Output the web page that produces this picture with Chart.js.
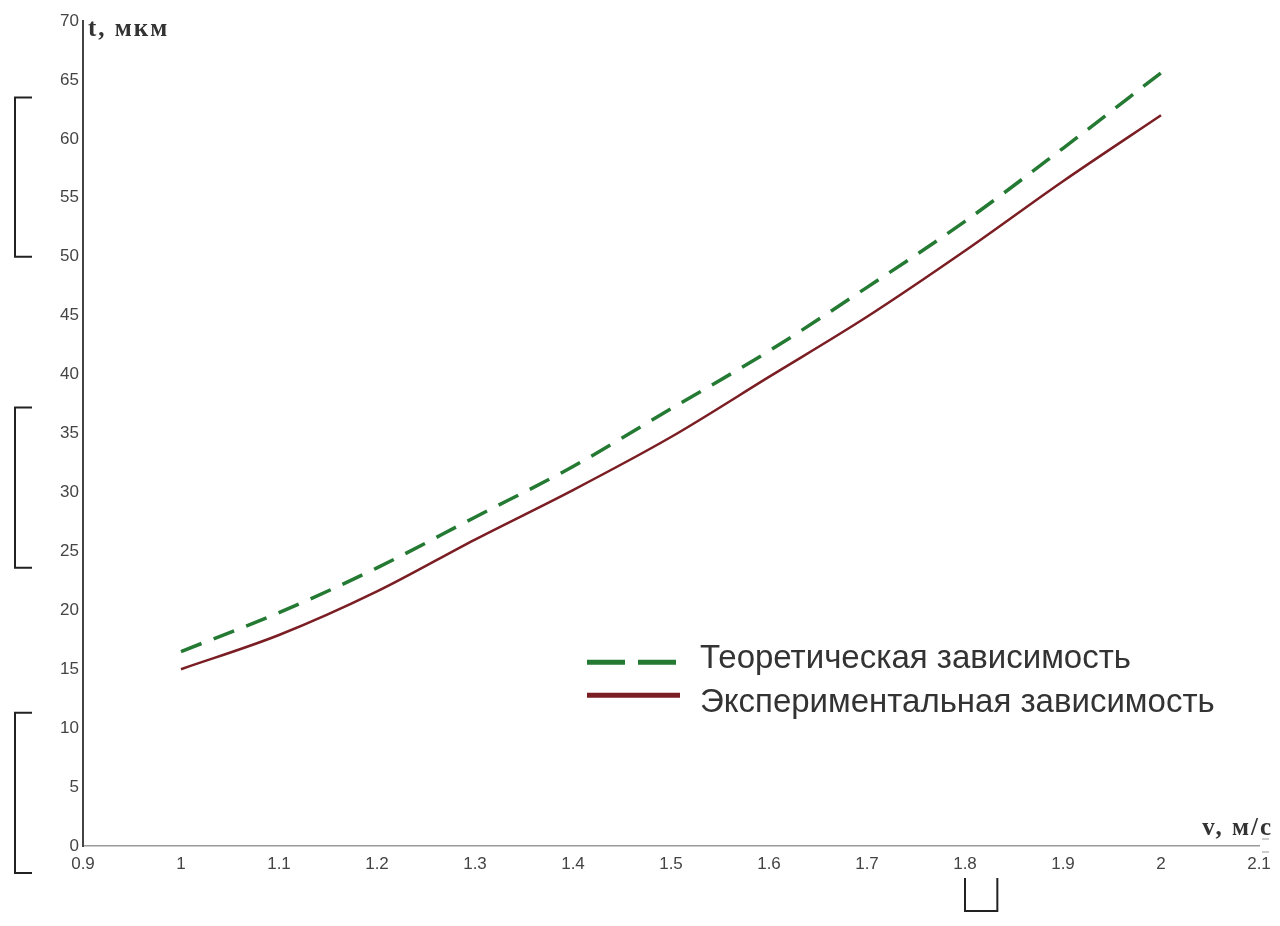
<!DOCTYPE html>
<html lang="ru">
  <head>
    <meta charset="UTF-8" />
    <title>t(v)</title>
    <script src="https://cdn.jsdelivr.net/npm/chart.js"></script>
    <style>
      html, body { margin: 0; padding: 0; background: #fff; }
      #wrap { width: 1280px; height: 926px; }
    </style>
  </head>
  <body>
    <div id="wrap"><canvas id="chart" width="1280" height="926"></canvas></div>
    <script>
      // speed v, m/s
      const speeds = [1, 1.1, 1.2, 1.3, 1.4, 1.5, 1.6, 1.7, 1.8, 1.9, 2];
      // t, mkm
      const theoretical = [16.5, 19.8, 23.6, 27.9, 32.2, 37.1, 42.0, 47.4, 53.0, 59.2, 65.6];
      const experimental = [15.0, 17.9, 21.6, 26.0, 30.2, 34.7, 39.8, 44.9, 50.5, 56.4, 62.0];
      const legendLabels = ["Теоретическая зависимость", "Экспериментальная зависимость"];
      const xTicks = [0.9, 1, 1.1, 1.2, 1.3, 1.4, 1.5, 1.6, 1.7, 1.8, 1.9, 2, 2.1];
      const xTitle = "v, м/с";
      const yTitle = "t, мкм";

      const toPoints = (ys) => ys.map((y, i) => ({ x: speeds[i], y: y }));

      // axis titles, legend and the scan marks on the margins
      const extras = {
        id: "extras",
        afterDraw(chart) {
          const c = chart.ctx;
          const xs = chart.scales.x, ys = chart.scales.y;
          c.save();

          c.fillStyle = "#333";
          c.font = "bold 25px 'Liberation Serif'";
          c.letterSpacing = "2px";
          c.textBaseline = "middle";
          c.textAlign = "left";
          c.fillText(yTitle, xs.left + 5, ys.top + 9);
          c.textAlign = "right";
          c.fillText(xTitle, xs.right + 14, ys.bottom - 17);
          c.letterSpacing = "0px";

          // arrow marks at x axis end
          c.strokeStyle = "#999";
          c.lineWidth = 1;
          c.beginPath();
          c.moveTo(xs.right + 3, ys.bottom - 7); c.lineTo(xs.right + 10, ys.bottom - 7);
          c.moveTo(xs.right + 3, ys.bottom + 6); c.lineTo(xs.right + 10, ys.bottom + 6);
          c.stroke();

          // legend
          const lx = xs.getPixelForValue(1.5) - 86;
          const lines = [ys.getPixelForValue(15.6), ys.getPixelForValue(12.8)];
          const texts = [ys.getPixelForValue(15.9), ys.getPixelForValue(12.1)];
          chart.data.datasets.forEach((ds, i) => {
            c.strokeStyle = ds.borderColor;
            c.lineWidth = 5;
            c.setLineDash(ds.borderDash && ds.borderDash.length ? [38, 13] : []);
            c.beginPath();
            c.moveTo(lx + 2, lines[i]); c.lineTo(lx + 95, lines[i]);
            c.stroke();
            c.setLineDash([]);
            c.fillStyle = "#333";
            c.font = "33px 'Liberation Sans'";
            c.textAlign = "left";
            c.textBaseline = "middle";
            c.fillText(legendLabels[i], lx + 115, texts[i]);
          });

          // bracket marks
          c.strokeStyle = "#222";
          c.lineWidth = 2;
          [[63.5, 50], [37.2, 23.6], [11.3, -2.3]].forEach(([a, b]) => {
            const y1 = ys.getPixelForValue(a), y2 = ys.getPixelForValue(b);
            c.beginPath();
            c.moveTo(32, y1); c.lineTo(15, y1); c.lineTo(15, y2); c.lineTo(32, y2);
            c.stroke();
          });
          const bx1 = xs.getPixelForValue(1.8), bx2 = xs.getPixelForValue(1.833);
          c.beginPath();
          c.moveTo(bx1, ys.bottom + 32); c.lineTo(bx1, ys.bottom + 65);
          c.lineTo(bx2, ys.bottom + 65); c.lineTo(bx2, ys.bottom + 32);
          c.stroke();
          c.restore();
        },
      };

      new Chart(document.getElementById("chart"), {
        type: "line",
        data: {
          datasets: [
            {
              label: legendLabels[0],
              data: toPoints(theoretical),
              borderColor: "#257a33",
              borderWidth: 3.5,
              borderDash: [22, 13],
              pointRadius: 0,
              cubicInterpolationMode: "monotone",
            },
            {
              label: legendLabels[1],
              data: toPoints(experimental),
              borderColor: "#7b1e24",
              borderWidth: 2.5,
              pointRadius: 0,
              cubicInterpolationMode: "monotone",
            },
          ],
        },
        options: {
          responsive: false,
          animation: false,
          layout: { padding: { top: 21, right: 21, left: 0, bottom: 0 } },
          plugins: { legend: { display: false }, tooltip: { enabled: false } },
          scales: {
            x: {
              type: "linear",
              min: 0.9,
              max: 2.1,
              afterFit(s) { s.height = 80; },
              afterBuildTicks(s) {
                s.ticks = xTicks.map((v) => ({ value: v }));
              },
              grid: { display: false, drawTicks: false },
              border: { color: "#9a9a9a", width: 1.5 },
              ticks: {
                padding: 8,
                color: "#444",
                font: { family: "'Liberation Sans'", size: 17 },
                callback: (v) => String(Math.round(v * 10) / 10),
              },
            },
            y: {
              min: 0,
              max: 70,
              afterFit(s) { s.width = 83; },
              grid: { display: false, drawTicks: false },
              border: { color: "#444", width: 2 },
              ticks: {
                stepSize: 5,
                padding: 4,
                color: "#444",
                font: { family: "'Liberation Sans'", size: 17 },
              },
            },
          },
        },
        plugins: [extras],
      });
    </script>
  </body>
</html>
